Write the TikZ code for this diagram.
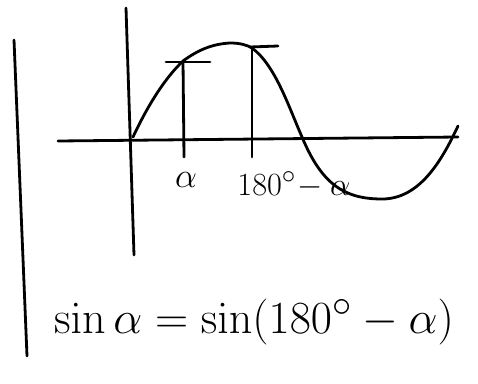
\documentclass[tikz,border=0pt]{standalone}
\usepackage{amsmath}
\usepackage{graphicx}
\usepackage{tikz}
\usetikzlibrary{calc}

\begin{document}
\begin{tikzpicture}[x=1pt, y=-1pt, line cap=round, line join=round,
    pen/.style={line width=2.8pt, black},
    lbl/.style={font=\Huge, inner sep=0pt}]
  \useasboundingbox (0,0) rectangle (478,383);

  % Left margin bar
  \draw[pen] (14,40) -- (27,356);

  % Axes
  \draw[pen] (126,8) -- (134,255);
  \draw[pen] (58,141) -- (458,137);

  % Sine curve
  \draw[pen] (133,137) .. controls (148,105) and (165,78) .. (183,61)
    .. controls (198,50) and (212,44) .. (230,43)
    .. controls (240,43) and (247,45) .. (252,48)
    .. controls (275,65) and (288,105) .. (302,137)
    .. controls (322,185) and (345,199) .. (382,199)
    .. controls (420,199) and (442,160) .. (458,126);

  % Ordinates at alpha and 180-alpha
  \draw[pen] (183,61) -- (184,157);
  \draw[pen] (166,62) -- (210,62);
  \draw[pen] (252,48) -- (252,157);
  \draw[pen] (250,47) -- (278,46);

  % Labels
  \node[lbl] (alpha) at (186,180) {\scalebox{1.4}{$\alpha$}};
  \node[lbl] (suppl) at (294,185) {\scalebox{1.3}{$180^\circ\!-\alpha$}};

  % Identity
  \node[lbl] (identity) at (254,322)
    {\scalebox{1.85}{$\sin\alpha=\sin(180^\circ-\alpha)$}};

\end{tikzpicture}
\end{document}
